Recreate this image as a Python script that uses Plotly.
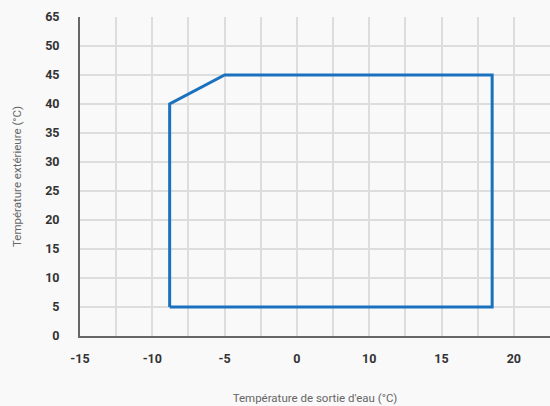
import numpy as np
import plotly.graph_objects as go

# Axis labels as printed, placed at evenly spaced positions on the axis
x_tick_labels = [-15, -10, -5, 0, 10, 15, 20]
x_tick_pos = [-15, -10, -5, 0, 5, 10, 15]
y_tick_labels = [0, 5, 10, 15, 20, 25, 30, 35, 40, 45, 50, 65]
y_tick_pos = [0, 5, 10, 15, 20, 25, 30, 35, 40, 45, 50, 55]

# Operating envelope (water outlet temperature vs outdoor temperature)
water_out = [-8.8, -8.8, -5, 18.5, 18.5, -8.8]
outdoor = [5, 40, 45, 45, 5, 5]

# Convert label values into axis positions
x_plot = np.interp(water_out, x_tick_labels, x_tick_pos)
y_plot = np.interp(outdoor, y_tick_labels, y_tick_pos)

fig = go.Figure()
fig.add_trace(go.Scatter(
    x=x_plot, y=y_plot, mode="lines",
    line=dict(color="#1a72bf", width=3),
    hoverinfo="skip", showlegend=False,
))

tick_font = dict(family="Roboto, sans-serif", size=12.5,
                 color="#333333", weight="bold")
title_font = dict(family="Roboto, sans-serif", size=11.5,
                  color="#666666")

fig.update_layout(
    width=550, height=406,
    margin=dict(l=80, r=0, t=17, b=70),
    paper_bgcolor="#f9f9f9", plot_bgcolor="#f9f9f9",
    xaxis=dict(
        range=[-15, 17.5], tickmode="array",
        tickvals=x_tick_pos, ticktext=[str(v) for v in x_tick_labels],
        tickfont=tick_font, ticklabelstandoff=10,
        showgrid=True, gridcolor="#dddddd", gridwidth=1.5,
        minor=dict(tickmode="linear", tick0=-15, dtick=2.5,
                   showgrid=True, gridcolor="#dddddd", gridwidth=1.5),
        showline=True, linecolor="#666666", linewidth=2,
        zeroline=False, fixedrange=True,
        title=dict(text="Température de sortie d'eau (°C)", font=title_font,
                   standoff=29),
    ),
    yaxis=dict(
        range=[0, 55], tickmode="array",
        tickvals=y_tick_pos, ticktext=[str(v) for v in y_tick_labels],
        tickfont=tick_font, ticklabelstandoff=16,
        showgrid=True, gridcolor="#dddddd", gridwidth=1.5,
        showline=True, linecolor="#666666", linewidth=2,
        zeroline=False, fixedrange=True,
        title=dict(text="Température extérieure (°C)", font=title_font,
                   standoff=21),
    ),
)

fig.write_html("out.html")
